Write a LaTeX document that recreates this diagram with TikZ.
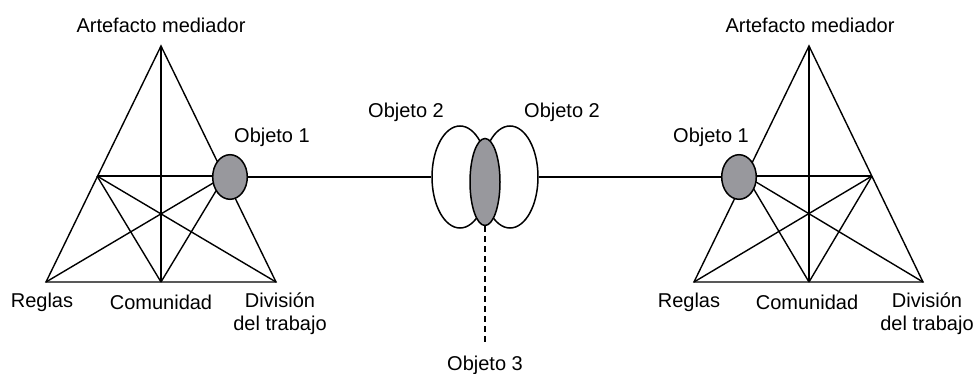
\documentclass[tikz,border=0pt]{standalone}
\usepackage{fontspec}
\setmainfont{Liberation Sans}
\usetikzlibrary{shapes.geometric}
\definecolor{objgray}{RGB}{152,152,157}
\begin{document}
\begin{tikzpicture}[x=1pt,y=-1pt,
  ln/.style={line width=1.4pt,line join=miter},
  lbl/.style={font=\fontsize{20}{23}\selectfont,inner sep=0pt,align=center},
  obj/.style={ellipse,draw,line width=1.5pt,inner sep=0pt},
  dsh/.style={line width=1.4pt,dash pattern=on 6pt off 4pt}]
\useasboundingbox (0,0) rectangle (978,374);
% ---------- left triangle ----------
\coordinate (LA) at (161,46);
\coordinate (LR) at (46,282);
\coordinate (LC) at (161,282);
\coordinate (LD) at (276,282);
\coordinate (LM) at (97,176);
\coordinate (LN) at (225,176);
\draw[ln] (LA) -- (LR) -- (LD) -- cycle;
\draw[ln] (LA) -- (LC);
\draw[ln] (LM) -- (LN);
\draw[ln] (LM) -- (LC);
\draw[ln] (LM) -- (LD);
\draw[ln] (LN) -- (LC);
\draw[ln] (LN) -- (LR);
\node[obj,fill=objgray,minimum width=34.6pt,minimum height=44.6pt] (O1L) at (230,177) {};
% ---------- right triangle ----------
\coordinate (RA) at (809,46);
\coordinate (RR) at (694,282);
\coordinate (RC) at (809,282);
\coordinate (RD) at (923,282);
\coordinate (RM) at (746,176);
\coordinate (RN) at (872,176);
\draw[ln] (RA) -- (RR) -- (RD) -- cycle;
\draw[ln] (RA) -- (RC);
\draw[ln] (RM) -- (RN);
\draw[ln] (RM) -- (RC);
\draw[ln] (RM) -- (RD);
\draw[ln] (RN) -- (RC);
\draw[ln] (RN) -- (RR);
\node[obj,fill=objgray,minimum width=34.6pt,minimum height=44.6pt] (O1R) at (739,177) {};
% ---------- middle objects ----------
\node[obj,fill=white,minimum width=56pt,minimum height=102pt] (O2L) at (460,177) {};
\node[obj,fill=white,minimum width=56pt,minimum height=102pt] (O2R) at (510,177) {};
\node[obj,fill=objgray,minimum width=30pt,minimum height=87pt] (O3) at (485,182) {};
\coordinate (O3E) at (485,346);
% ---------- connectors ----------
\draw[ln] (O1L.east) -- (O2L.west);
\draw[ln] (O2R.east) -- (O1R.west);
\draw[dsh] (O3.south) -- (O3E);
% ---------- labels ----------
\node[lbl] (tAL) at (161,25) {Artefacto mediador};
\node[lbl] (tOL) at (272,137) {Objeto 1};
\node[lbl] (tRL) at (42,302) {Reglas};
\node[lbl] (tCL) at (161,302) {Comunidad};
\node[lbl] (tDL) at (280,314) {División\\del trabajo};
\node[lbl] (tAR) at (810,25) {Artefacto mediador};
\node[lbl] (tOR) at (711,137) {Objeto 1};
\node[lbl] (tRR) at (689,302) {Reglas};
\node[lbl] (tCR) at (807,302) {Comunidad};
\node[lbl] (tDR) at (927,314) {División\\del trabajo};
\node[lbl] (t2L) at (406,112) {Objeto 2};
\node[lbl] (t2R) at (562,112) {Objeto 2};
\node[lbl] (t3) at (485,365) {Objeto 3};
\end{tikzpicture}
\end{document}
